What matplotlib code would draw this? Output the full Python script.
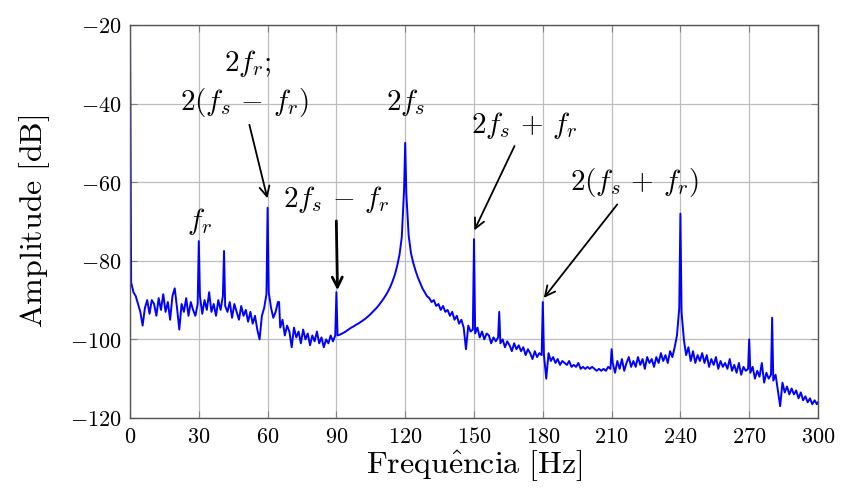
import numpy as np
import matplotlib
matplotlib.use("Agg")
import matplotlib.pyplot as plt

plt.rcParams['mathtext.fontset'] = 'cm'
plt.rcParams['font.family'] = ['DejaVu Serif']

# ---- spectrum ----
# noise floor, one value per bin centred at 0.5, 1.5, ... 299.5 Hz
floor_hz = np.arange(0.5, 300.0, 1.0)
floor_db = [
    -85.5, -88.0, -89.0, -91.0, -93.0, -96.5, -92.0, -90.0, -93.5, -90.0,      # 0-10
    -91.0, -94.0, -89.5, -92.5, -88.5, -93.0, -90.5, -95.0, -89.0, -87.0,      # 10-20
    -92.0, -97.5, -91.0, -93.0, -89.5, -94.0, -90.5, -92.5, -94.0, -91.0,      # 20-30
    -89.0, -93.5, -90.0, -92.5, -88.0, -93.0, -91.0, -94.0, -90.0, -92.5,      # 30-40
    -89.0, -91.5, -93.0, -90.5, -94.5, -91.0, -93.0, -95.0, -91.5, -94.0,      # 40-50
    -92.5, -95.5, -93.0, -96.0, -94.0, -97.5, -100.0, -94.0, -92.0, -88.5,     # 50-60
    -88.0, -92.0, -94.5, -93.0, -90.5, -97.0, -95.0, -99.0, -96.5, -98.0,      # 60-70
    -102.0, -97.0, -99.5, -98.0, -101.0, -97.5, -100.0, -98.5, -101.5, -99.0,  # 70-80
    -100.5, -98.0, -101.0, -99.5, -102.0, -100.0, -101.0, -99.0, -100.5, -99.0,  # 80-90
    -99.0, -98.8, -98.5, -98.2, -97.8, -97.4, -97.0, -96.7, -96.3, -96.0,      # 90-100
    -95.6, -95.2, -94.8, -94.3, -93.8, -93.2, -92.6, -92.0, -91.3, -90.5,      # 100-110
    -89.7, -88.8, -87.8, -86.6, -85.2, -83.5, -81.3, -78.5, -74.0, -62.0,      # 110-120
    -63.0, -73.5, -78.0, -80.5, -82.5, -84.2, -85.6, -87.0, -88.0, -89.0,      # 120-130
    -89.5, -90.5, -90.0, -91.5, -91.0, -92.5, -91.5, -93.0, -92.5, -94.0,      # 130-140
    -93.0, -95.0, -94.0, -96.0, -95.0, -97.0, -102.5, -96.5, -98.0, -97.5,     # 140-150
    -98.5, -97.0, -99.5, -98.0, -100.0, -98.5, -99.0, -101.0, -99.5, -100.5,   # 150-160
    -99.5, -101.0, -100.0, -102.0, -100.5, -101.5, -103.0, -101.0, -102.5, -101.5,  # 160-170
    -103.0, -102.0, -104.0, -102.5, -103.5, -105.0, -103.0, -104.5, -103.5, -104.0,  # 170-180
    -104.0, -110.0, -103.5, -105.5, -104.5, -106.0, -105.0, -106.5, -105.5, -106.0,  # 180-190
    -106.5, -105.5, -107.0, -106.5, -107.0, -106.0, -107.5, -107.0, -107.5, -107.0,  # 190-200
    -107.5, -107.0, -107.5, -108.0, -107.5, -108.0, -107.5, -108.0, -107.0, -107.5,  # 200-210
    -106.0, -108.5, -105.5, -107.5, -105.0, -108.0, -106.0, -104.5, -107.0, -105.5,  # 210-220
    -107.0, -104.5, -106.5, -105.0, -107.5, -104.5, -106.0, -105.0, -107.0, -104.5,  # 220-230
    -106.0, -103.5, -105.5, -104.0, -106.0, -103.0, -104.5, -102.0, -99.0, -92.0,    # 230-240
    -93.0, -100.0, -104.0, -102.0, -105.5, -103.0, -106.0, -104.0, -105.5, -103.5,   # 240-250
    -106.0, -104.0, -107.0, -105.0, -106.5, -104.5, -107.5, -105.5, -107.0, -106.0,  # 250-260
    -107.5, -105.0, -108.0, -106.5, -108.5, -106.0, -109.0, -107.0, -108.0, -107.5,  # 260-270
    -108.5, -107.0, -110.0, -108.0, -109.5, -106.0, -111.0, -108.5, -110.0, -109.0,  # 270-280
    -110.5, -109.0, -113.0, -117.0, -111.0, -113.5, -112.0, -114.0, -112.5, -114.0,  # 280-290
    -113.0, -115.0, -113.5, -115.5, -114.5, -116.0, -115.0, -116.5, -115.5, -116.5,  # 290-300
]

# single-bin lines (DC, harmonics, last bin)
line_hz = [0, 30, 41, 60, 65, 90, 120, 150, 161, 180, 210, 240, 270, 280, 300]
line_db = [-20, -75, -77.5, -66.5, -90.5, -88, -50, -74.5, -93, -90.5, -102.5, -68, -100, -94.5, -116]

x_ticks = [0, 30, 60, 90, 120, 150, 180, 210, 240, 270, 300]
y_ticks = [-120, -100, -80, -60, -40, -20]

# merge floor and lines into one trace
freq = np.concatenate([floor_hz, line_hz])
amp = np.concatenate([floor_db, line_db])
order = np.argsort(freq, kind="stable")
freq, amp = freq[order], amp[order]

fig = plt.figure(figsize=(8.42, 4.97), dpi=100)
ax = fig.add_axes([0.1544, 0.159, 0.8171, 0.7907])

ax.plot(freq, amp, color="#0000ff", lw=1.4)

ax.set_xlim(0, 300)
ax.set_ylim(-120, -20)
ax.set_xticks(x_ticks)
ax.set_yticks(y_ticks)
ax.set_xticklabels([f"${v}$" for v in x_ticks], fontsize=16)
ax.set_yticklabels([f"${v}$" for v in y_ticks], fontsize=16)
ax.grid(True, color="#bdbdbd", lw=0.9)
ax.tick_params(direction="in", length=5, color="#808080", top=True, right=True, pad=6)
for s in ax.spines.values():
    s.set_color("#555555")
    s.set_linewidth(1.0)

ax.set_xlabel(r"$\mathrm{Frequ\hat{e}ncia\ [Hz]}$", fontsize=23, labelpad=0)
ax.set_ylabel(r"$\mathrm{Amplitude\ [dB]}$", fontsize=23, labelpad=13)

# ---- annotations ----
tfs = 21
arr = dict(arrowstyle="->", color="black", lw=1.3, mutation_scale=18)
ax.text(51.5, -29.7, r"$2f_r;$", fontsize=tfs, ha="center", va="center")
ax.annotate(r"$2(f_s\,-\,f_r)$", xy=(60.2, -64.8), xytext=(49.7, -39.8),
            fontsize=tfs, ha="center", va="center", arrowprops=arr)
ax.annotate(r"$2f_s\,-\,f_r$", xy=(90.5, -88.2), xytext=(89.8, -64.5),
            fontsize=tfs, ha="center", va="center",
            arrowprops=dict(arrowstyle="->", color="black", lw=2.0, mutation_scale=18))
ax.text(120, -39.8, r"$2f_s$", fontsize=tfs, ha="center", va="center")
ax.annotate(r"$2f_s\,+\,f_r$", xy=(149.6, -72.9), xytext=(172, -45.5),
            fontsize=tfs, ha="center", va="center", arrowprops=arr)
ax.annotate(r"$2(f_s\,+\,f_r)$", xy=(179.7, -90), xytext=(219.8, -60.2),
            fontsize=tfs, ha="center", va="center", arrowprops=arr)
ax.text(30.5, -70.1, r"$f_r$", fontsize=tfs, ha="center", va="center")

fig.savefig("out.png", dpi=100)
